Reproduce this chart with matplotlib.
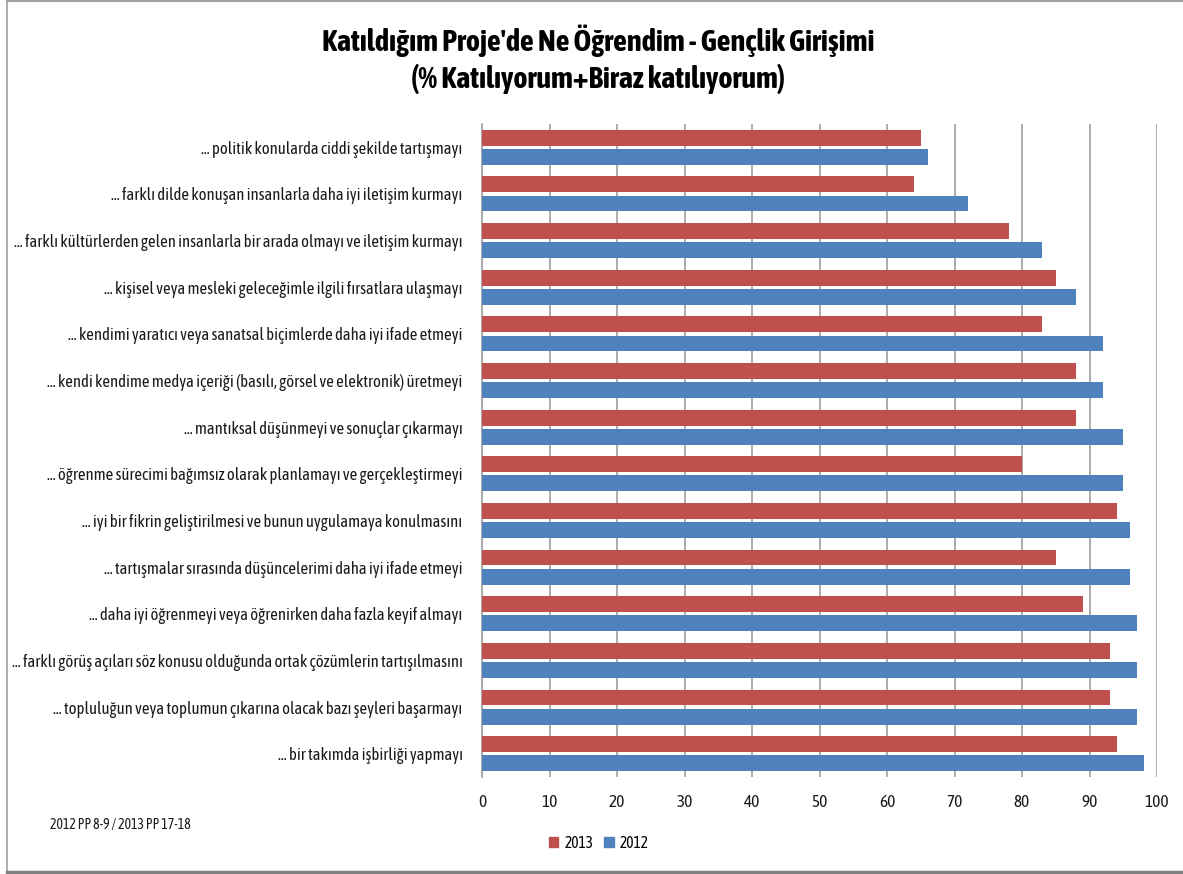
import os
import matplotlib
matplotlib.use("Agg")
import matplotlib.pyplot as plt
from matplotlib import font_manager as fm
from matplotlib.lines import Line2D
from matplotlib.patches import Rectangle

# ---------------- data ----------------
categories = [
    "... politik konularda ciddi şekilde tartışmayı",
    "... farklı dilde konuşan insanlarla daha iyi iletişim kurmayı",
    "... farklı kültürlerden gelen insanlarla bir arada olmayı ve iletişim kurmayı",
    "... kişisel veya mesleki geleceğimle ilgili fırsatlara ulaşmayı",
    "... kendimi yaratıcı veya sanatsal biçimlerde daha iyi ifade etmeyi",
    "... kendi kendime medya içeriği (basılı, görsel ve elektronik) üretmeyi",
    "... mantıksal düşünmeyi ve sonuçlar çıkarmayı",
    "... öğrenme sürecimi bağımsız olarak planlamayı ve gerçekleştirmeyi",
    "... iyi bir fikrin geliştirilmesi ve bunun uygulamaya konulmasını",
    "... tartışmalar sırasında düşüncelerimi daha iyi ifade etmeyi",
    "... daha iyi öğrenmeyi veya öğrenirken daha fazla keyif almayı",
    "... farklı görüş açıları söz konusu olduğunda ortak çözümlerin tartışılmasını",
    "... topluluğun veya toplumun çıkarına olacak bazı şeyleri başarmayı",
    "... bir takımda işbirliği yapmayı",
]
values_2013 = [65, 64, 78, 85, 83, 88, 88, 80, 94, 85, 89, 93, 93, 94]
values_2012 = [66, 72, 83, 88, 92, 92, 95, 95, 96, 96, 97, 97, 97, 98]
series_names = ["2013", "2012"]
x_ticks = [0, 10, 20, 30, 40, 50, 60, 70, 80, 90, 100]
title_line1 = "Katıldığım Proje'de Ne Öğrendim - Gençlik Girişimi"
title_line2 = "(% Katılıyorum+Biraz katılıyorum)"
footnote = "2012 PP 8-9 / 2013 PP 17-18"

# ---------------- fonts ----------------
all_files = fm.findSystemFonts()
def find_font(names):
    low = {os.path.basename(f).lower(): f for f in all_files}
    for n in names:
        if n.lower() in low:
            return low[n.lower()]
    return None

reg_file = find_font(["AsapCondensed-Regular.ttf", "DejaVuSansCondensed.ttf"])
bold_file = find_font(["AsapCondensed-Bold.ttf", "AsapCondensed-SemiBold.ttf",
                       "DejaVuSansCondensed-Bold.ttf"])

def fp(bold=False, size=10):
    f = bold_file if bold else reg_file
    if f:
        return fm.FontProperties(fname=f, size=size)
    return fm.FontProperties(family="DejaVu Sans", weight="bold" if bold else "normal", size=size)

RED = "#C0504D"
BLUE = "#4F81BD"
GRID = "#A6A6A6"
TXT = "#1A1A1A"

W, H = 1183, 874
fig = plt.figure(figsize=(W / 100, H / 100), dpi=100)
fig.patch.set_facecolor("white")
renderer = fig.canvas.get_renderer()

def fit_size(text, bold, target_px, base=10.0):
    t = fig.text(0, 0, text, fontproperties=fp(bold, base))
    w = t.get_window_extent(renderer).width
    t.remove()
    return base * target_px / w

left, right, top, bottom = 482, 1157, 124, 777
ax = fig.add_axes([left / W, 1 - bottom / H, (right - left) / W, (bottom - top) / H])

n = len(categories)
ys = list(range(n))
bh = 0.34
off = 0.205
ax.barh([y - off for y in ys], values_2013, height=bh, color=RED, label=series_names[0], zorder=3)
ax.barh([y + off for y in ys], values_2012, height=bh, color=BLUE, label=series_names[1], zorder=3)

ax.set_xlim(0, 100)
ax.set_ylim(n - 0.5, -0.5)
ax.set_xticks(x_ticks)
ax.set_yticks(ys)
ax.grid(axis="x", color=GRID, linewidth=1.3, zorder=0)
ax.set_axisbelow(True)
for s in ["top", "right", "bottom"]:
    ax.spines[s].set_visible(False)
ax.spines["left"].set_color(GRID)
ax.spines["left"].set_linewidth(1.3)
ax.tick_params(axis="both", length=0)
ax.tick_params(axis="x", pad=12)
ax.tick_params(axis="y", pad=14)

longest = max(categories, key=len)
lab_size = fit_size(longest, False, 447)
tick_size = fit_size("100", False, 24)
ax.set_yticklabels(categories, fontproperties=fp(False, lab_size), color=TXT)
ax.set_xticklabels([str(t) for t in x_ticks], fontproperties=fp(False, tick_size), color=TXT)

t1 = fit_size(title_line1, True, 560)
t2 = fit_size(title_line2, True, 363)
ts = (t1 + t2) / 2
fig.text(598 / W, 1 - 41 / H, title_line1, ha="center", va="center",
         fontproperties=fp(True, ts), color="black")
fig.text(598 / W, 1 - 79 / H, title_line2, ha="center", va="center",
         fontproperties=fp(True, ts), color="black")

fs = fit_size(footnote, False, 141)
fig.text(50 / W, 1 - 825 / H, footnote, ha="left", va="center",
         fontproperties=fp(False, fs), color=TXT)

ls = fit_size("2013", False, 29)
fig.legend(handles=[Rectangle((0, 0), 1, 1, color=RED), Rectangle((0, 0), 1, 1, color=BLUE)],
           labels=series_names, loc="center", bbox_to_anchor=(599 / W, 1 - 843 / H),
           ncol=2, frameon=False, prop=fp(False, ls), handlelength=0.6, handleheight=0.6,
           handletextpad=0.4, columnspacing=0.7)

# frame lines
fig.add_artist(Line2D([7 / W, 7 / W], [0, 1], color="#A0A0A0", linewidth=1.2))
fig.add_artist(Line2D([7 / W, 1], [1 - 1 / H, 1 - 1 / H], color="#A0A0A0", linewidth=1.5))
fig.add_artist(Line2D([7 / W, 1], [1 - 871.5 / H, 1 - 871.5 / H], color="#808080", linewidth=2.5))

fig.savefig("out.png", dpi=100)
